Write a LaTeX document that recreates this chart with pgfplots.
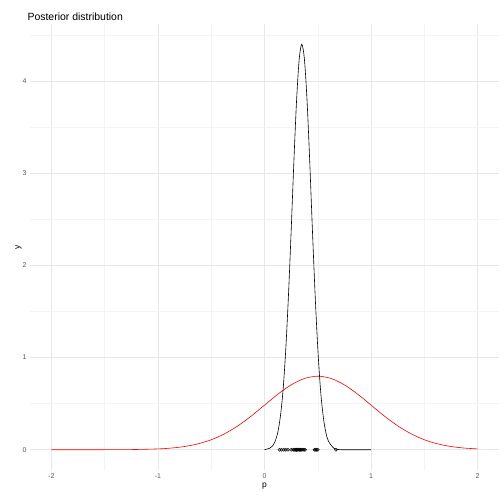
\documentclass[border=0pt]{standalone}
\usepackage{pgfplots}
\pgfplotsset{compat=1.18}
\usepackage{fontspec}
\setmainfont{Liberation Sans}
\begin{document}
\begin{tikzpicture}
\path[use as bounding box] (-30bp,-34bp) rectangle (474bp,470bp);
\begin{axis}[
  width=469bp, height=446bp, scale only axis,
  at={(0,0)},
  xmin=-2.2, xmax=2.2, ymin=-0.22, ymax=4.62,
  axis line style={draw=none},
  xtick={-2,-1,0,1,2}, ytick={0,1,2,3,4},
  minor xtick={-1.5,-0.5,0.5,1.5}, minor ytick={0.5,1.5,2.5,3.5,4.5},
  grid=both,
  major grid style={gray!18, line width=0.6pt},
  minor grid style={gray!9, line width=0.4pt},
  tick style={draw=none},
  tick label style={font=\fontsize{7}{8}\selectfont, text=gray!70!black},
  /pgf/number format/assume math mode=true,
  xlabel={p}, ylabel={y},
  label style={font=\fontsize{8.5}{10}\selectfont},
  xlabel style={yshift=2pt}, ylabel style={yshift=-6pt},
  title={Posterior distribution},
  title style={font=\fontsize{10.5}{12}\selectfont, at={(0,1)}, anchor=south west, xshift=-6pt, yshift=-6pt},
]
\addplot[red, smooth, line width=0.6pt] coordinates {
(-2,0)(-1.5,0.0003)(-1.25,0.0017)(-1,0.0089)(-0.875,0.018)(-0.75,0.035)(-0.625,0.0635)(-0.5,0.108)(-0.375,0.173)(-0.25,0.259)(-0.125,0.365)(0,0.484)(0.125,0.602)(0.25,0.704)(0.375,0.773)(0.5,0.798)(0.625,0.773)(0.75,0.704)(0.875,0.602)(1,0.484)(1.125,0.365)(1.25,0.259)(1.375,0.173)(1.5,0.108)(1.625,0.0635)(1.75,0.035)(1.875,0.018)(2,0.0089)};
\addplot[black, smooth, line width=0.6pt] coordinates {
(0,0)(0.05,0.017)(0.075,0.04)(0.1,0.093)(0.125,0.19)(0.15,0.37)(0.175,0.66)(0.2,1.10)(0.225,1.68)(0.25,2.37)(0.275,3.11)(0.3,3.77)(0.325,4.23)(0.35,4.4)(0.375,4.23)(0.4,3.77)(0.425,3.11)(0.45,2.37)(0.475,1.68)(0.5,1.10)(0.525,0.66)(0.55,0.37)(0.575,0.19)(0.6,0.093)(0.65,0.017)(0.7,0.002)(0.75,0)(1,0)};
\addplot[only marks, mark=*, mark size=1.6pt, mark options={draw=none, fill=black, fill opacity=0.2}] coordinates {
(0.14,0)(0.16,0)(0.18,0)(0.2,0)(0.22,0)(0.25,0)(0.27,0)(0.28,0)(0.29,0)(0.3,0)(0.31,0)(0.32,0)(0.33,0)(0.34,0)(0.35,0)(0.36,0)(0.37,0)(0.38,0)(0.3,0)(0.33,0)(0.47,0)(0.48,0)(0.5,0)(0.49,0)(0.67,0)};
\end{axis}
\end{tikzpicture}
\end{document}
